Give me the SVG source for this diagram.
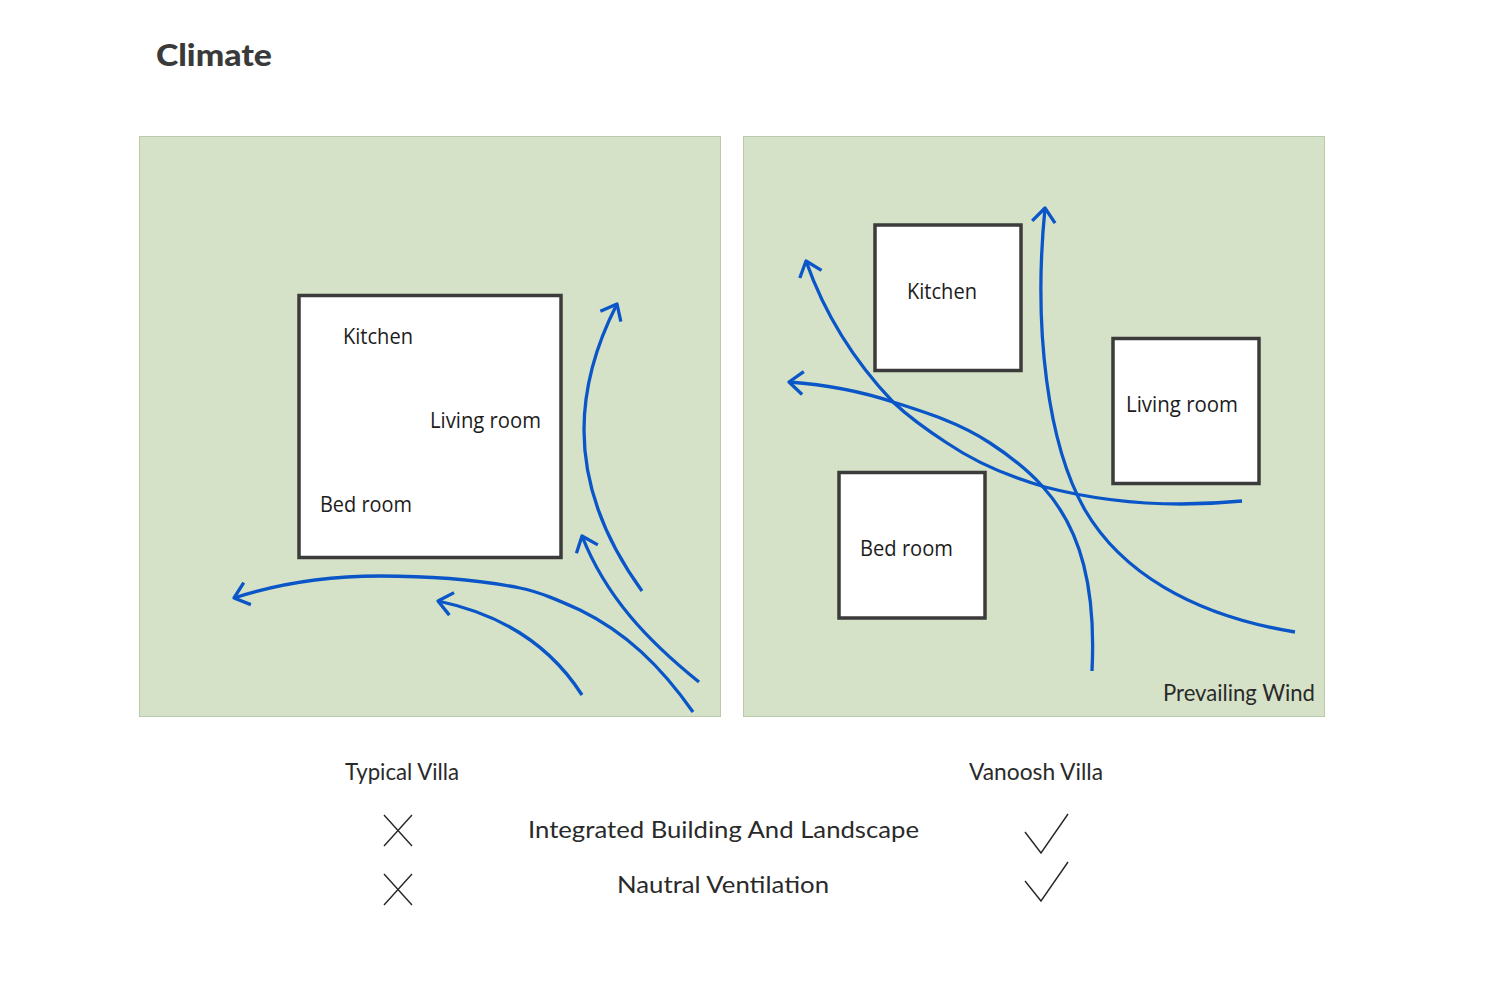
<svg xmlns="http://www.w3.org/2000/svg" width="1500" height="1000" viewBox="0 0 1500 1000">
<style>
.panel{fill:#d5e2c7;stroke:#b9cbaa;stroke-width:1}
.room{fill:#fff;stroke:#3b3b3b;stroke-width:3.5}
.wind{fill:none;stroke:#0a56c8;stroke-width:3.3;stroke-linecap:butt;marker-end:url(#open)}
.mark{fill:none;stroke:#262626;stroke-width:1.4}
.rl{font-family:"Open Sans","Noto Sans",sans-serif;font-size:21px;fill:#1c1c1c}
.fl{font-family:"Lato","Noto Sans",sans-serif;font-size:23px;fill:#2a2a2a}
.title{font-family:"Lato","Noto Sans",sans-serif;font-size:31px;font-weight:900;fill:#3a3a3a}
</style>
<defs>
<marker id="open" markerUnits="userSpaceOnUse" markerWidth="30" markerHeight="30" viewBox="-20 -15 24 30" refX="0" refY="0" orient="auto">
<path d="M-14,-11.500 L0,0 L-14,11.500" fill="none" stroke="#0a56c8" stroke-width="3.300" stroke-linejoin="round"/>
</marker>
</defs>
<rect width="1500" height="1000" fill="#fff"/>
<text class="title" x="156" y="66" textLength="116" lengthAdjust="spacingAndGlyphs">Climate</text>

<g id="panel-typical"><rect class="panel" x="139.500" y="136.500" width="581" height="580"/></g>
<g id="panel-vanoosh"><rect class="panel" x="743.500" y="136.500" width="581" height="580"/></g>

<g id="typical-house">
<rect class="room" x="299" y="295.500" width="262" height="262"/>
<text class="rl" x="343" y="344" textLength="70" lengthAdjust="spacingAndGlyphs">Kitchen</text>
<text class="rl" x="430" y="428" textLength="111" lengthAdjust="spacingAndGlyphs">Living room</text>
<text class="rl" x="320" y="512" textLength="92" lengthAdjust="spacingAndGlyphs">Bed room</text>
</g>
<g id="kitchen"><rect class="room" x="875" y="225" width="146" height="145.500"/>
<text class="rl" x="907" y="299" textLength="70" lengthAdjust="spacingAndGlyphs">Kitchen</text></g>
<g id="living-room"><rect class="room" x="1113" y="338.500" width="146" height="145"/>
<text class="rl" x="1126" y="412" textLength="112" lengthAdjust="spacingAndGlyphs">Living room</text></g>
<g id="bed-room"><rect class="room" x="839" y="472.500" width="146" height="145.500"/>
<text class="rl" x="860" y="556" textLength="93" lengthAdjust="spacingAndGlyphs">Bed room</text></g>

<g id="connectors">
<path class="wind" d="M642,591 C603,537 584,482 584,430 C584,385 597,343 617,304"/>
<path class="wind" d="M699,682 C648,641 606,597 582,536"/>
<path class="wind" d="M693,712 C660,665 625,632 580,610 C560,601 540,592 520,588 C480,580 430,576 380,576 C330,576 280,583 234,598"/>
<path class="wind" d="M582,695 C552,648 505,615 438,601"/>
<path class="wind" d="M1092,671 C1096,590 1082,530 1043,487 C1027,469 1010,456 990,443 C960,423 925,412 893,402 C860,391 830,385 789,382"/>
<path class="wind" d="M1242,501 C1180,507 1110,504 1045,487 C1010,477 975,462 947,443 C930,432 910,418 893,402 C855,362 825,315 806,261"/>
<path class="wind" d="M1295,632 C1190,615 1120,570 1085,510 C1048,445 1033,330 1045,208"/>
</g>

<g id="labels">
<text class="fl" x="1163" y="701" textLength="152" lengthAdjust="spacingAndGlyphs">Prevailing Wind</text>
<text class="fl" x="345" y="780" textLength="114" lengthAdjust="spacingAndGlyphs">Typical Villa</text>
<text class="fl" x="969" y="780" textLength="134" lengthAdjust="spacingAndGlyphs">Vanoosh Villa</text>
<text class="fl" x="528" y="838" textLength="391" lengthAdjust="spacingAndGlyphs">Integrated Building And Landscape</text>
<text class="fl" x="617" y="893" textLength="212" lengthAdjust="spacingAndGlyphs">Nautral Ventilation</text>
</g>
<g id="marks">
<path class="mark" d="M384,815 L412,846 M412,815 L384,846"/>
<path class="mark" d="M384,874 L412,905 M412,874 L384,905"/>
<path class="mark" d="M1025,832 L1041,853 L1068,814"/>
<path class="mark" d="M1025,881 L1041,901 L1068,862"/>
</g>
</svg>
